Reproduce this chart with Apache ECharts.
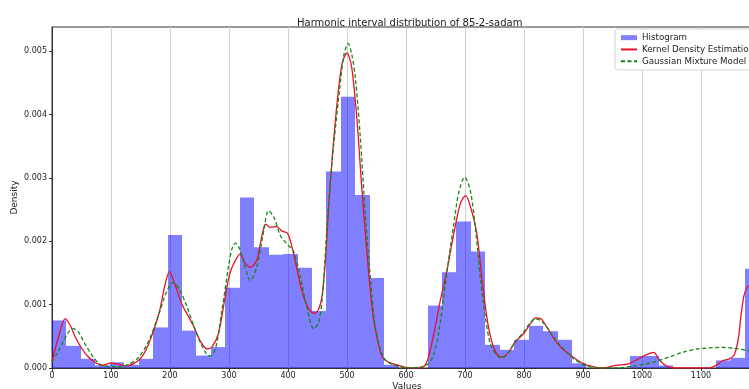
<!DOCTYPE html>
<html>
<head>
<meta charset="utf-8">
<script src="https://cdn.jsdelivr.net/npm/echarts@6/dist/echarts.min.js"></script>
<style>
  html, body { margin: 0; padding: 0; background: #fff; }
  #chart { width: 749px; height: 389px; }
</style>
</head>
<body>
<div id="chart"></div>
<script>
// histogram: equal-width bins starting at 0
const binWidth = 24.48
const histDensity = [
  0.00075, 0.00035, 0.000145, 0.00004, 0.00009, 0.00005, 0.000145, 0.00064,
  0.0021, 0.00059, 0.000197, 0.00033, 0.001265, 0.00269, 0.001905, 0.001785,
  0.0018, 0.00158, 0.0009, 0.0031, 0.00428, 0.00273, 0.00142, 0.00005,
  0, 0, 0.000985, 0.00151, 0.00231, 0.00184, 0.000365, 0.000287,
  0.000445, 0.000665, 0.00058, 0.000445, 0.000075, 0, 0, 0,
  0.00019, 0.00019, 0.00004, 0, 0, 0, 0.00012, 0.00016, 0.001565
]

// kernel density estimate, [value, density x1e-3]
const kdePoints = [
  [0,0.10],[11,0.49],[22.5,0.78],[31,0.67],[39.5,0.49],[51,0.30],[62,0.17],[73,0.09],
  [85,0.04],[99,0.076],[110,0.065],[124,0.035],[138,0.065],[152,0.17],[166,0.43],[181,0.85],
  [192,1.33],[199,1.52],[209,1.30],[220,1.01],[232,0.80],[240,0.66],[251,0.43],[263,0.30],
  [271,0.33],[282,0.54],[294,1.15],[302,1.51],[311,1.70],[319,1.80],[327,1.66],[336,1.59],
  [347,1.70],[355,2.05],[362,2.27],[370,2.22],[381,2.23],[390,2.16],[399,2.13],[407,1.90],
  [413,1.65],[420,1.35],[428,1.08],[436,0.92],[445,0.86],[452,0.93],[458,1.15],[463,1.65],
  [469,2.54],[474.5,3.27],[483,4.17],[491.5,4.80],[500,4.97],[508,4.74],[517,3.90],[525,2.85],
  [534,1.80],[543,0.91],[552,0.43],[560,0.17],[571,0.09],[588,0.04],[600,0.01],[615,0],
  [632,0.04],[641,0.28],[649.6,0.65],[658,1.06],[669.5,1.54],[681,2.12],[692,2.59],[701,2.72],
  [709,2.55],[720,2.12],[728.5,1.43],[737,0.80],[745,0.43],[754,0.22],[763,0.17],[774,0.25],
  [785,0.41],[799,0.54],[811,0.70],[820,0.79],[828,0.78],[839,0.64],[851,0.46],[862,0.33],
  [873,0.24],[887,0.145],[901,0.066],[915,0.024],[932,0],[955,0.04],[977,0.066],[994,0.145],
  [1008,0.21],[1020,0.245],[1028,0.145],[1040,0.04],[1057,0],[1113,0],[1125,0.04],[1136,0.11],
  [1148,0.145],[1156,0.2],[1163,0.45],[1168,0.85],[1173,1.15],[1178,1.27],[1183,1.30]
]

// gaussian mixture model, [value, density x1e-3]
const gmmPoints = [
  [0,0.09],[8,0.22],[17,0.38],[28,0.565],[36,0.62],[45,0.565],[56,0.38],[68,0.20],
  [79,0.076],[90,0.03],[113,0.02],[130,0.055],[147,0.17],[164,0.43],[181,0.85],[195,1.22],
  [206,1.35],[217,1.22],[229,0.96],[240,0.67],[251,0.41],[262,0.22],[268,0.19],[277,0.30],
  [288,0.91],[299,1.59],[305,1.88],[311,1.97],[318,1.88],[325,1.67],[336,1.38],[347,1.59],
  [359,2.17],[367,2.48],[376,2.38],[387,2.09],[398,1.96],[410,1.83],[421,1.43],[432,0.96],
  [443.5,0.62],[452,0.72],[458,1.10],[466,2.22],[471,2.85],[477,3.48],[489,4.53],[495,4.95],
  [502,5.12],[508,4.95],[514,4.59],[522.5,3.64],[531,2.43],[540,1.38],[548,0.64],[557,0.28],
  [565.5,0.12],[582,0.04],[600,0.005],[624,0.013],[638,0.066],[647,0.22],[655,0.54],[663,1.06],
  [672,1.70],[681,2.27],[689,2.75],[699.5,3.01],[709,2.80],[717.5,2.22],[726,1.43],[734.5,0.80],
  [743,0.38],[754,0.20],[763,0.16],[774,0.25],[785,0.41],[799,0.565],[811,0.72],[819,0.775],
  [828,0.75],[839,0.64],[850,0.49],[861.5,0.355],[873,0.25],[884,0.145],[898,0.066],[909,0.024],
  [929,0.003],[963,0.003],[980,0.024],[1003,0.055],[1025,0.108],[1048,0.18],[1070,0.25],[1093,0.30],
  [1116,0.318],[1135,0.325],[1155,0.313],[1183,0.27]
]

const font = 'DejaVu Sans'
const histData = histDensity.map((h, i) => [i * binWidth, (i + 1) * binWidth, h])
const toDensity = pts => pts.map(p => [p[0], p[1] / 1000])

const chart = echarts.init(document.getElementById('chart'))

chart.setOption({
  animation: false,
  title: {
    text: 'Harmonic interval distribution of 85-2-sadam',
    left: 292,
    top: 13,
    textStyle: { fontFamily: font, fontSize: 10, fontWeight: 'normal', color: '#222' }
  },
  legend: {
    orient: 'vertical',
    left: 615,
    top: 29,
    padding: [4, 6, 4, 5],
    itemWidth: 16,
    itemHeight: 5,
    itemGap: 2.5,
    backgroundColor: '#fff',
    borderColor: '#d4d4d4',
    borderWidth: 1,
    borderRadius: 3,
    textStyle: { fontFamily: font, fontSize: 8.7, color: '#222', lineHeight: 9.3 },
    data: [
      { name: 'Histogram', icon: 'rect' },
      { name: 'Kernel Density Estimation', itemStyle: { opacity: 0 } },
      { name: 'Gaussian Mixture Model', itemStyle: { opacity: 0 } }
    ]
  },
  grid: {
    left: 52,
    right: -1,
    top: 27,
    bottom: 21,
    outerBoundsMode: 'none',
    containLabel: false,
    show: true,
    borderColor: '#333',
    borderWidth: 1
  },
  xAxis: {
    type: 'value',
    min: 0,
    max: 1183,
    interval: 100,
    name: 'Values',
    nameLocation: 'middle',
    nameGap: 14,
    nameMoveOverlap: false,
    nameTextStyle: { fontFamily: font, fontSize: 9, color: '#222', padding: [0, 0, 0, 12] },
    axisLine: { show: true, lineStyle: { color: '#333', width: 1 } },
    axisTick: { show: true, length: 3, lineStyle: { color: '#333' } },
    axisLabel: {
      fontFamily: font, fontSize: 8, color: '#222', margin: 4, showMaxLabel: false,
      formatter: v => String(v)
    },
    splitLine: { show: true, lineStyle: { color: '#cfcfcf', width: 1 } }
  },
  yAxis: {
    type: 'value',
    min: 0,
    max: 0.00538,
    interval: 0.001,
    name: 'Density',
    nameLocation: 'middle',
    nameGap: 33,
    nameMoveOverlap: false,
    nameTextStyle: { fontFamily: font, fontSize: 9, color: '#222' },
    axisLine: { show: true, lineStyle: { color: '#333', width: 1 } },
    axisTick: { show: true, length: 3, lineStyle: { color: '#333' } },
    axisLabel: {
      fontFamily: font, fontSize: 8, color: '#222', margin: 5, showMaxLabel: false,
      formatter: v => v.toFixed(3)
    },
    splitLine: { show: false }
  },
  series: [
    {
      name: 'Histogram',
      type: 'custom',
      clip: true,
      itemStyle: { color: 'rgba(0,0,255,0.5)' },
      encode: { x: [0, 1], y: 2 },
      data: histData,
      renderItem: (params, api) => {
        const top = api.coord([api.value(0), api.value(2)])
        const bottom = api.coord([api.value(1), 0])
        // snap bin edges to whole pixels so neighbouring bars meet without seams
        const x0 = Math.round(top[0])
        const x1 = Math.round(bottom[0])
        return {
          type: 'rect',
          shape: { x: x0, y: top[1], width: x1 - x0, height: bottom[1] - top[1] },
          style: { fill: 'rgba(0,0,255,0.5)' }
        }
      }
    },
    {
      name: 'Kernel Density Estimation',
      type: 'line',
      smooth: 0.3,
      symbol: 'none',
      color: '#e8102a',
      lineStyle: { color: '#e8102a', width: 1.3 },
      data: toDensity(kdePoints)
    },
    {
      name: 'Gaussian Mixture Model',
      type: 'line',
      smooth: 0.3,
      symbol: 'none',
      color: '#108a10',
      lineStyle: { color: '#108a10', width: 1.3, type: [4, 2.5] },
      data: toDensity(gmmPoints)
    }
  ]
})
</script>
</body>
</html>
